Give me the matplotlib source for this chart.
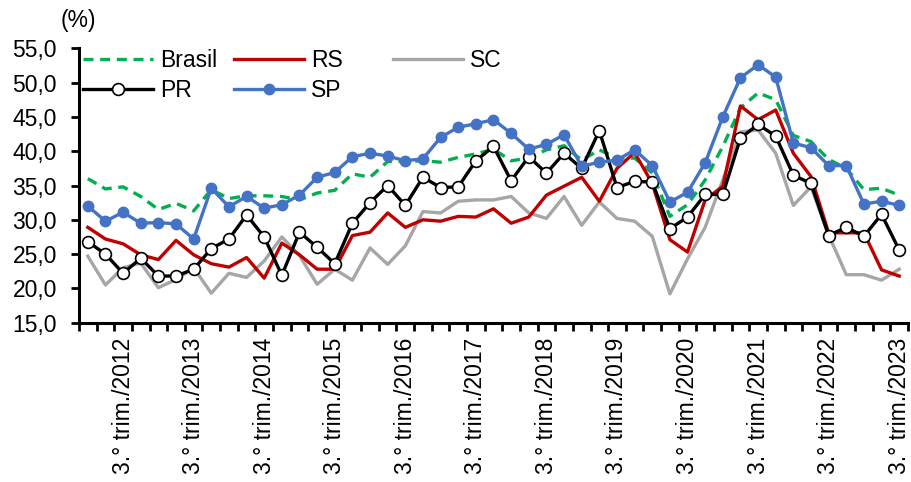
import matplotlib
matplotlib.use('Agg')
import matplotlib.pyplot as plt
from matplotlib.ticker import FixedLocator, FuncFormatter
from matplotlib.lines import Line2D

plt.rcParams['font.family'] = ['Liberation Sans', 'DejaVu Sans']

# quarterly series, 1st quarter 2012 .. 3rd quarter 2023 (%)
brasil = [36.0, 34.5, 34.8, 33.4, 31.5, 32.4, 31.3, 34.4, 33.1, 33.5,
          33.5, 33.4, 32.9, 33.9, 34.3, 36.7, 36.2, 38.5, 38.5, 38.6,
          38.4, 39.1, 39.6, 40.3, 38.6, 39.0, 40.2, 40.8, 38.7, 40.2,
          39.0, 39.0, 36.8, 30.5, 32.2, 35.8, 40.7, 46.3, 48.5, 47.5,
          42.3, 41.4, 38.8, 37.5, 34.4, 34.6, 33.6]
rs = [28.9, 27.2, 26.5, 24.9, 24.2, 27.0, 24.9, 23.6, 23.1, 24.5,
      21.5, 26.6, 24.9, 22.8, 22.8, 27.7, 28.2, 31.0, 28.9, 30.0,
      29.8, 30.5, 30.4, 31.6, 29.5, 30.4, 33.6, 34.9, 36.2, 32.7,
      37.5, 39.8, 35.3, 27.1, 25.3, 32.9, 34.9, 46.6, 44.6, 46.0,
      39.7, 36.3, 28.1, 28.1, 28.1, 22.7, 21.8]
sc = [24.7, 20.5, 23.0, 23.7, 20.1, 21.3, 23.0, 19.3, 22.2, 21.6,
      24.0, 27.5, 24.8, 20.6, 22.8, 21.2, 25.9, 23.5, 26.2, 31.2,
      31.0, 32.7, 32.9, 32.9, 33.4, 31.0, 30.2, 33.4, 29.2, 32.6,
      30.2, 29.8, 27.6, 19.2, 24.3, 28.9, 35.8, 42.8, 43.1, 39.7,
      32.1, 34.8, 27.8, 22.0, 22.0, 21.2, 22.8]
pr = [26.8, 25.0, 22.2, 24.4, 21.8, 21.8, 22.8, 25.8, 27.2, 30.7,
      27.5, 21.9, 28.2, 26.0, 23.6, 29.5, 32.5, 35.0, 32.1, 36.2,
      34.7, 34.8, 38.6, 40.7, 35.7, 39.2, 36.8, 39.7, 37.5, 43.0,
      34.7, 35.6, 35.5, 28.7, 30.4, 33.7, 33.7, 41.9, 43.9, 42.2,
      36.5, 35.3, 27.7, 28.9, 27.6, 30.8, 25.6]
sp = [32.0, 29.8, 31.1, 29.5, 29.6, 29.4, 27.2, 34.6, 31.9, 33.4,
      31.7, 32.2, 33.6, 36.2, 36.9, 39.2, 39.7, 39.3, 38.6, 38.9,
      42.0, 43.5, 44.0, 44.6, 42.6, 40.3, 41.0, 42.4, 37.8, 38.4,
      38.7, 40.2, 37.9, 32.6, 34.0, 38.3, 45.0, 50.7, 52.6, 50.8,
      41.2, 40.5, 37.9, 37.9, 32.3, 32.7, 32.1]

label_years = [2012, 2013, 2014, 2015, 2016, 2017, 2018, 2019, 2020, 2021, 2022, 2023]
tick_labels = ['3.° trim./%d' % y for y in label_years]

x = list(range(len(brasil)))
tick_pos = [(y - 2012) * 4 + 2 for y in label_years]

fs = 16.5

fig = plt.figure(figsize=(9.11, 4.82), dpi=100)
ax = fig.add_axes([79 / 911, 1 - 322.7 / 482, 829 / 911, 274.4 / 482])

lw = 2.4
ax.plot(x, brasil, color='#00B050', lw=lw, ls=(0, (3, 2)), zorder=2)
ax.plot(x, rs, color='#C00000', lw=lw, zorder=3)
ax.plot(x, sc, color='#A6A6A6', lw=lw, zorder=1)
ax.plot(x, pr, color='black', lw=lw, marker='o', ms=8.5, mfc='white',
        mec='black', mew=1.2, zorder=4)
ax.plot(x, sp, color='#4472C4', lw=lw, marker='o', ms=7.5, mfc='#4472C4',
        mec='#4472C4', zorder=5)

ax.set_xlim(-0.5, len(x) - 0.5)
ax.set_ylim(15, 55)
ax.set_yticks(range(15, 56, 5))
ax.yaxis.set_major_formatter(FuncFormatter(lambda v, p: ('%.1f' % v).replace('.', ',')))

ax.xaxis.set_major_locator(FixedLocator(tick_pos))
ax.set_xticklabels(tick_labels, rotation=90, fontsize=fs)
ax.xaxis.set_minor_locator(FixedLocator([i - 0.5 for i in range(len(x) + 1)]))
ax.tick_params(axis='x', which='major', length=0, pad=11)
ax.tick_params(axis='x', which='minor', length=6, width=2)
ax.tick_params(axis='y', which='major', length=6, width=2, labelsize=fs, pad=10)

for s in ['top', 'right']:
    ax.spines[s].set_visible(False)
for s in ['left', 'bottom']:
    ax.spines[s].set_linewidth(2.2)

fig.text(61 / 911, 1 - 21 / 482, '(%)', fontsize=fs, va='center', ha='left')

def handle(**kw):
    return Line2D([], [], lw=lw, **kw)

h_bra = handle(color='#00B050', ls=(0, (3, 2)))
h_pr = handle(color='black', marker='o', ms=8.5, mfc='white', mec='black', mew=1.2)
h_rs = handle(color='#C00000')
h_sp = handle(color='#4472C4', marker='o', ms=7.5, mfc='#4472C4', mec='#4472C4')
h_sc = handle(color='#A6A6A6')

leg_kw = dict(frameon=False, fontsize=fs, handlelength=3.05,
              handletextpad=0.3, borderaxespad=0, loc='upper left')
leg1 = ax.legend([h_bra, h_pr, h_rs, h_sp], ['Brasil', 'PR', 'RS', 'SP'],
                 ncol=2, bbox_to_anchor=(-0.006, 1.032), columnspacing=0.75,
                 labelspacing=0.3, **leg_kw)
ax.add_artist(leg1)
ax.legend([h_sc], ['SC'], bbox_to_anchor=(0.3675, 1.032), **leg_kw)

fig.savefig('out.png', dpi=100)
